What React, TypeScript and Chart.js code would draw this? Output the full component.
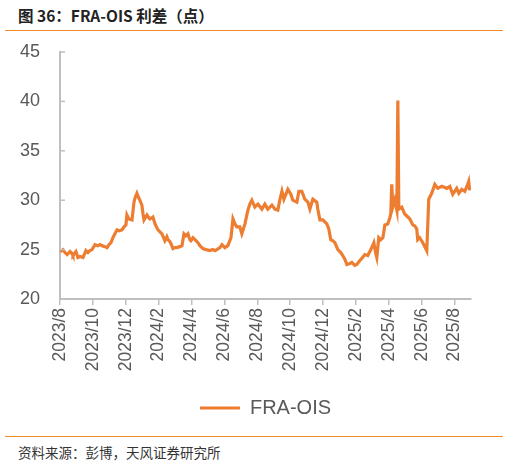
import { useEffect, useRef } from 'react';
import { Chart, registerables } from 'chart.js';

Chart.register(...registerables);

const seriesName = 'FRA-OIS';
const titleText = '图 36：FRA-OIS 利差（点）';
const sourceText = '资料来源：彭博，天风证券研究所';

// x tick labels, one every two months starting 2023/8
const tickLabels = [
  '2023/8', '2023/10', '2023/12', '2024/2', '2024/4', '2024/6', '2024/8',
  '2024/10', '2024/12', '2025/2', '2025/4', '2025/6', '2025/8',
];

// months elapsed since 2023/8/1
const monthIdx = [
  0.0, 0.18, 0.3, 0.43, 0.61, 0.73, 0.79, 0.97, 1.09, 1.22,
  1.4, 1.58, 1.7, 1.82, 1.95, 2.13, 2.31, 2.43, 2.55, 2.74,
  2.86, 2.98, 3.1, 3.22, 3.34, 3.47, 3.59, 3.77, 3.89, 4.01,
  4.07, 4.19, 4.38, 4.5, 4.56, 4.68, 4.8, 4.86, 4.98, 5.05,
  5.11, 5.29, 5.41, 5.47, 5.65, 5.78, 5.96, 6.08, 6.2, 6.38,
  6.5, 6.57, 6.69, 6.75, 6.87, 6.99, 7.11, 7.29, 7.42, 7.54,
  7.66, 7.78, 7.9, 7.96, 8.09, 8.27, 8.39, 8.51, 8.69, 8.88,
  9.12, 9.3, 9.42, 9.54, 9.73, 9.85, 10.03, 10.21, 10.33, 10.4,
  10.52, 10.64, 10.76, 10.94, 11.06, 11.25, 11.43, 11.55, 11.67, 11.85,
  12.04, 12.28, 12.46, 12.64, 12.89, 13.07, 13.25, 13.37, 13.5, 13.62,
  13.86, 14.04, 14.16, 14.41, 14.53, 14.71, 14.89, 15.08, 15.2, 15.38,
  15.62, 15.68, 15.81, 15.99, 16.11, 16.23, 16.35, 16.47, 16.6, 16.72,
  16.9, 17.08, 17.2, 17.33, 17.45, 17.63, 17.75, 17.93, 18.05, 18.24,
  18.36, 18.54, 18.72, 18.91, 19.09, 19.21, 19.27, 19.39, 19.51, 19.64,
  19.76, 19.94, 20.06, 20.12, 20.18, 20.24, 20.36, 20.49, 20.55, 20.61,
  20.79, 20.97, 21.16, 21.28, 21.46, 21.58, 21.7, 21.76, 21.88, 22.07,
  22.31, 22.43, 22.61, 22.8, 22.98, 23.22, 23.53, 23.71, 23.89, 24.13,
  24.26, 24.44, 24.62, 24.8, 24.86, 24.92,
];

// FRA-OIS spread (points)
const spread = [
  24.8, 25.0, 24.7, 24.5, 24.8, 24.6, 24.4, 24.8, 24.2, 24.3,
  24.2, 24.9, 24.7, 24.9, 25.0, 25.5, 25.4, 25.5, 25.4, 25.3,
  25.2, 25.5, 25.7, 26.2, 26.6, 27.0, 26.9, 27.0, 27.3, 27.5,
  28.5, 28.1, 28.0, 29.8, 30.2, 30.7, 30.2, 30.0, 29.5, 28.6,
  28.0, 28.5, 28.2, 28.1, 28.3, 27.6, 27.0, 26.8, 26.6, 25.9,
  26.3, 26.0, 25.8, 25.6, 25.1, 25.2, 25.2, 25.3, 25.4, 26.6,
  26.4, 26.6, 26.0, 25.9, 26.2, 25.9, 25.7, 25.4, 25.1, 25.0,
  24.9, 25.0, 24.9, 25.0, 25.2, 25.5, 25.2, 25.4, 25.9, 26.2,
  28.1, 27.6, 27.3, 27.3, 26.6, 27.6, 29.0, 29.6, 30.0, 29.3,
  29.6, 29.1, 29.6, 29.1, 29.5, 29.1, 29.0, 30.0, 30.9, 30.1,
  31.1, 30.6, 30.0, 29.8, 30.9, 30.9, 30.1, 29.8, 29.1, 30.1,
  29.8, 29.1, 28.0, 28.0, 27.8, 27.6, 27.1, 26.0, 25.9, 25.7,
  25.0, 24.7, 24.4, 24.0, 23.5, 23.6, 23.7, 23.4, 23.5, 23.9,
  24.1, 24.5, 24.4, 25.0, 25.7, 24.6, 24.2, 26.2, 26.0, 26.2,
  27.5, 27.6, 28.2, 28.6, 31.6, 29.3, 30.0, 29.0, 40.1, 29.1,
  29.3, 28.6, 28.3, 28.1, 27.5, 27.4, 27.1, 26.0, 26.2, 25.7,
  24.9, 30.1, 30.7, 31.6, 31.2, 31.4, 31.2, 31.4, 30.6, 31.2,
  30.7, 31.1, 30.9, 31.6, 31.9, 31.0,
];

const yMin = 20;
const yMax = 45;
const yStep = 5;

const FONT = "'Liberation Sans', Arial, sans-serif";
const CJK = "'Noto Sans CJK SC', sans-serif";
const GRAY = '#595959';
const AXIS = '#BFBFBF';
const ORANGE = '#ED7D31';

const innerYTicks = {
  id: 'innerYTicks',
  afterDraw(chart: any) {
    const s = chart.scales.y;
    const ctx = chart.ctx;
    ctx.save();
    ctx.strokeStyle = AXIS;
    ctx.lineWidth = 1.5;
    s.ticks.forEach((t: any) => {
      const y = s.getPixelForValue(t.value);
      ctx.beginPath();
      ctx.moveTo(s.right, y);
      ctx.lineTo(s.right + 5, y);
      ctx.stroke();
    });
    ctx.restore();
  },
};

export default function App() {
  const ref = useRef<HTMLCanvasElement>(null);
  useEffect(() => {
    const chart = new Chart(ref.current as HTMLCanvasElement, {
      type: 'line',
      data: {
        datasets: [
          {
            label: seriesName,
            data: monthIdx.map((x, i) => ({ x, y: spread[i] })),
            borderColor: ORANGE,
            backgroundColor: ORANGE,
            borderWidth: 3.2,
            pointRadius: 0,
            tension: 0,
          },
        ],
      },
      options: {
        animation: false,
        responsive: false,
        maintainAspectRatio: false,
        layout: { padding: { top: 52, right: 37, left: 0, bottom: 2 } },
        plugins: {
          legend: {
            position: 'bottom',
            fullSize: false,
            labels: {
              usePointStyle: true,
              pointStyle: 'line',
              pointStyleWidth: 40,
              color: GRAY,
              font: { size: 20, family: FONT },
            },
          },
          tooltip: { enabled: false },
        },
        scales: {
          x: {
            type: 'linear',
            min: 0,
            max: 25,
            afterBuildTicks: (s: any) => {
              s.ticks = tickLabels.map((_, i) => ({ value: i * 2 }));
            },
            afterFit: (s: any) => {
              s.height = 89;
            },
            ticks: {
              callback: (v: any) => tickLabels[Math.round(v / 2)] ?? '',
              minRotation: 90,
              maxRotation: 90,
              autoSkip: false,
              color: GRAY,
              padding: 3,
              font: { size: 17.5, family: FONT },
            },
            grid: {
              drawOnChartArea: false,
              drawTicks: true,
              tickLength: 6,
              color: AXIS,
              lineWidth: 1.5,
            },
            border: { color: AXIS, width: 2 },
          },
          y: {
            min: yMin,
            max: yMax,
            afterFit: (s: any) => {
              s.width = 60;
            },
            ticks: {
              stepSize: yStep,
              padding: 20,
              color: GRAY,
              font: { size: 18, family: FONT },
            },
            grid: { drawOnChartArea: false, drawTicks: false },
            border: { color: AXIS, width: 2 },
          },
        },
      } as any,
      plugins: [innerYTicks],
    });
    return () => chart.destroy();
  }, []);

  return (
    <div style={{ position: 'absolute', left: 0, top: 0, width: 508, height: 465, background: '#fff' }}>
      <div
        style={{
          position: 'absolute', left: 18, top: 5, fontFamily: CJK, fontWeight: 700,
          fontSize: 15.5, lineHeight: '20px', color: '#222', whiteSpace: 'nowrap',
        }}
      >
        {titleText}
      </div>
      <div style={{ position: 'absolute', left: 5, top: 30, width: 498, height: 0, borderTop: '1.5px solid #F28C28' }} />
      <canvas ref={ref} width={508} height={430} style={{ position: 'absolute', left: 0, top: 0, width: 508, height: 430 }} />
      <div style={{ position: 'absolute', left: 5, top: 436, width: 498, height: 0, borderTop: '1.5px solid #F28C28' }} />
      <div
        style={{
          position: 'absolute', left: 18, top: 443, fontFamily: CJK, fontSize: 13.5,
          lineHeight: '18px', color: '#333', whiteSpace: 'nowrap',
        }}
      >
        {sourceText}
      </div>
    </div>
  );
}
